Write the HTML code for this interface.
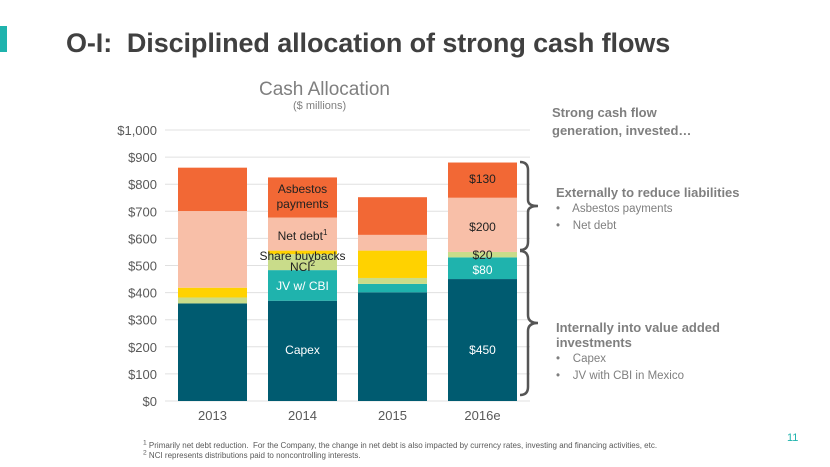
<!DOCTYPE html>
<html><head><meta charset="utf-8"><style>
body{margin:0;background:#fff;font-family:"Liberation Sans",sans-serif}
#root{position:relative;width:830px;height:467px;overflow:hidden;background:#fff}
.t{position:absolute;white-space:nowrap}
</style></head><body>
<div id="root">
<div style="position:absolute;left:0;top:26px;width:7px;height:26px;background:#1fb3ad"></div>
<div class="t" style="left:66px;top:28px;font-size:27px;font-weight:bold;color:#404040;letter-spacing:-0.1px">O-I:&nbsp; Disciplined allocation of strong cash flows</div>
<div class="t" style="left:259px;top:79px;font-size:19px;color:#7f7f7f">Cash Allocation</div>
<div class="t" style="left:293px;top:100px;font-size:11px;color:#7f7f7f">($ millions)</div>
<div class="t" style="left:552px;top:104px;font-size:13px;font-weight:bold;color:#7f7f7f;line-height:18px">Strong cash flow<br>generation, invested…</div>
<div class="t" style="left:556px;top:185px;font-size:13px;color:#7f7f7f;line-height:15px"><b>Externally to reduce liabilities</b><br><span style="font-size:11.5px">•&nbsp;&nbsp;&nbsp; Asbestos payments<br>•&nbsp;&nbsp;&nbsp; Net debt</span></div>
<div class="t" style="left:556px;top:320px;font-size:13px;color:#7f7f7f;line-height:15px"><b>Internally into value added<br>investments</b><br><span style="font-size:11.5px">•&nbsp;&nbsp;&nbsp; Capex<br>•&nbsp;&nbsp;&nbsp; JV with CBI in Mexico</span></div>
<div class="t" style="left:143px;top:441px;font-size:8px;color:#595959;line-height:10px"><sup style="line-height:0">1</sup> Primarily net debt reduction.&nbsp; For the Company, the change in net debt is also impacted by currency rates, investing and financing activities, etc.<br><sup style="line-height:0">2</sup> NCI represents distributions paid to noncontrolling interests.</div>
<div class="t" style="left:787px;top:432px;font-size:11px;color:#1fb3ad">11</div>
<svg id="chart" width="830" height="467" style="position:absolute;left:0;top:0"></svg>
</div>
<script>
const years=["2013","2014","2015","2016e"];
const capex=[360,370,401,450];
const jv=[0,113,31,80];
const nci=[22,59,22,20];
const buybacks=[36,13,101,0];
const netDebt=[283,122,58,200];
const asbestos=[160,148,139,130];
const ticks=[0,100,200,300,400,500,600,700,800,900,1000];
const tickLabels=["$0","$100","$200","$300","$400","$500","$600","$700","$800","$900","$1,000"];
const NS="http://www.w3.org/2000/svg";
const svg=document.getElementById('chart');
const y0=401,y1=130,x0=165,x1=530,bw=69;
function y(v){return y0-(y0-y1)*v/1000;}
function x(i){return 178+i*90;}
function el(t,a,p){const e=document.createElementNS(NS,t);for(const k in a)e.setAttribute(k,a[k]);(p||svg).appendChild(e);return e;}
ticks.forEach((v,i)=>{
 const g=el('line',{x1:x0,x2:x1,y1:y(v),y2:y(v),stroke:'#e0e0e0','stroke-width':1});
 
 
 const t=el('text',{x:157,y:y(v)+5,'text-anchor':'end','font-size':13,fill:'#595959','font-family':'Liberation Sans'});
 t.textContent=tickLabels[i];
 
 
});
const series=[["capex",capex,"#005b70"],["jv",jv,"#1fb3ad"],["nci",nci,"#c9dc8a"],["buybacks",buybacks,"#ffd200"],["net-debt",netDebt,"#f8bfa8"],["asbestos",asbestos,"#f26835"]];
years.forEach((yr,i)=>{
 let c=0;
 series.forEach(s=>{
  const v=s[1][i];
  if(v>0){const r=el('rect',{x:x(i),y:y(c+v),width:bw,height:y(c)-y(c+v),fill:s[2]});
   
   }
  c+=v;
 });
 const t=el('text',{x:x(i)+bw/2,y:420,'text-anchor':'middle','font-size':13,fill:'#595959','font-family':'Liberation Sans'});
 t.textContent=yr;
 
 
});
function lab(txt,cx,cy,col,nm){const t=el('text',{x:cx,y:cy,'text-anchor':'middle','font-size':12,fill:col,'font-family':'Liberation Sans'});t.innerHTML=txt;
 
 }
const c1=x(1)+bw/2,c3=x(3)+bw/2;
lab('Asbestos',c1,193,'#222','label-asbestos');lab('payments',c1,208,'#222','label-asbestos-2');
lab('Net debt<tspan font-size="8" dy="-5">1</tspan>',c1,240,'#222','label-net-debt');
lab('Share buybacks',c1,260,'#222','label-buybacks');
lab('NCI<tspan font-size="8" dy="-5">2</tspan>',c1,271,'#222','label-nci');
lab('JV w/ CBI',c1,290,'#fff','label-jv');
lab('Capex',c1,354,'#fff','label-capex');
lab('$130',c3,183,'#222','label-2016-asbestos');
lab('$200',c3,231,'#222','label-2016-netdebt');
lab('$20',c3,259,'#222','label-2016-nci');
lab('$80',c3,274,'#fff','label-2016-jv');
lab('$450',c3,354,'#fff','label-2016-capex');
const b1=el('path',{d:'M520,162 q8,0 8,8 v30 q0,6 10,6 q-10,0 -10,6 v30 q0,8 -8,8',fill:'none',stroke:'#555','stroke-width':2.5});


const b2=el('path',{d:'M520,251 q8,0 8,8 v56 q0,8 10,8 q-10,0 -10,8 v56 q0,8 -8,8',fill:'none',stroke:'#555','stroke-width':2.5});


</script>
</body></html>
